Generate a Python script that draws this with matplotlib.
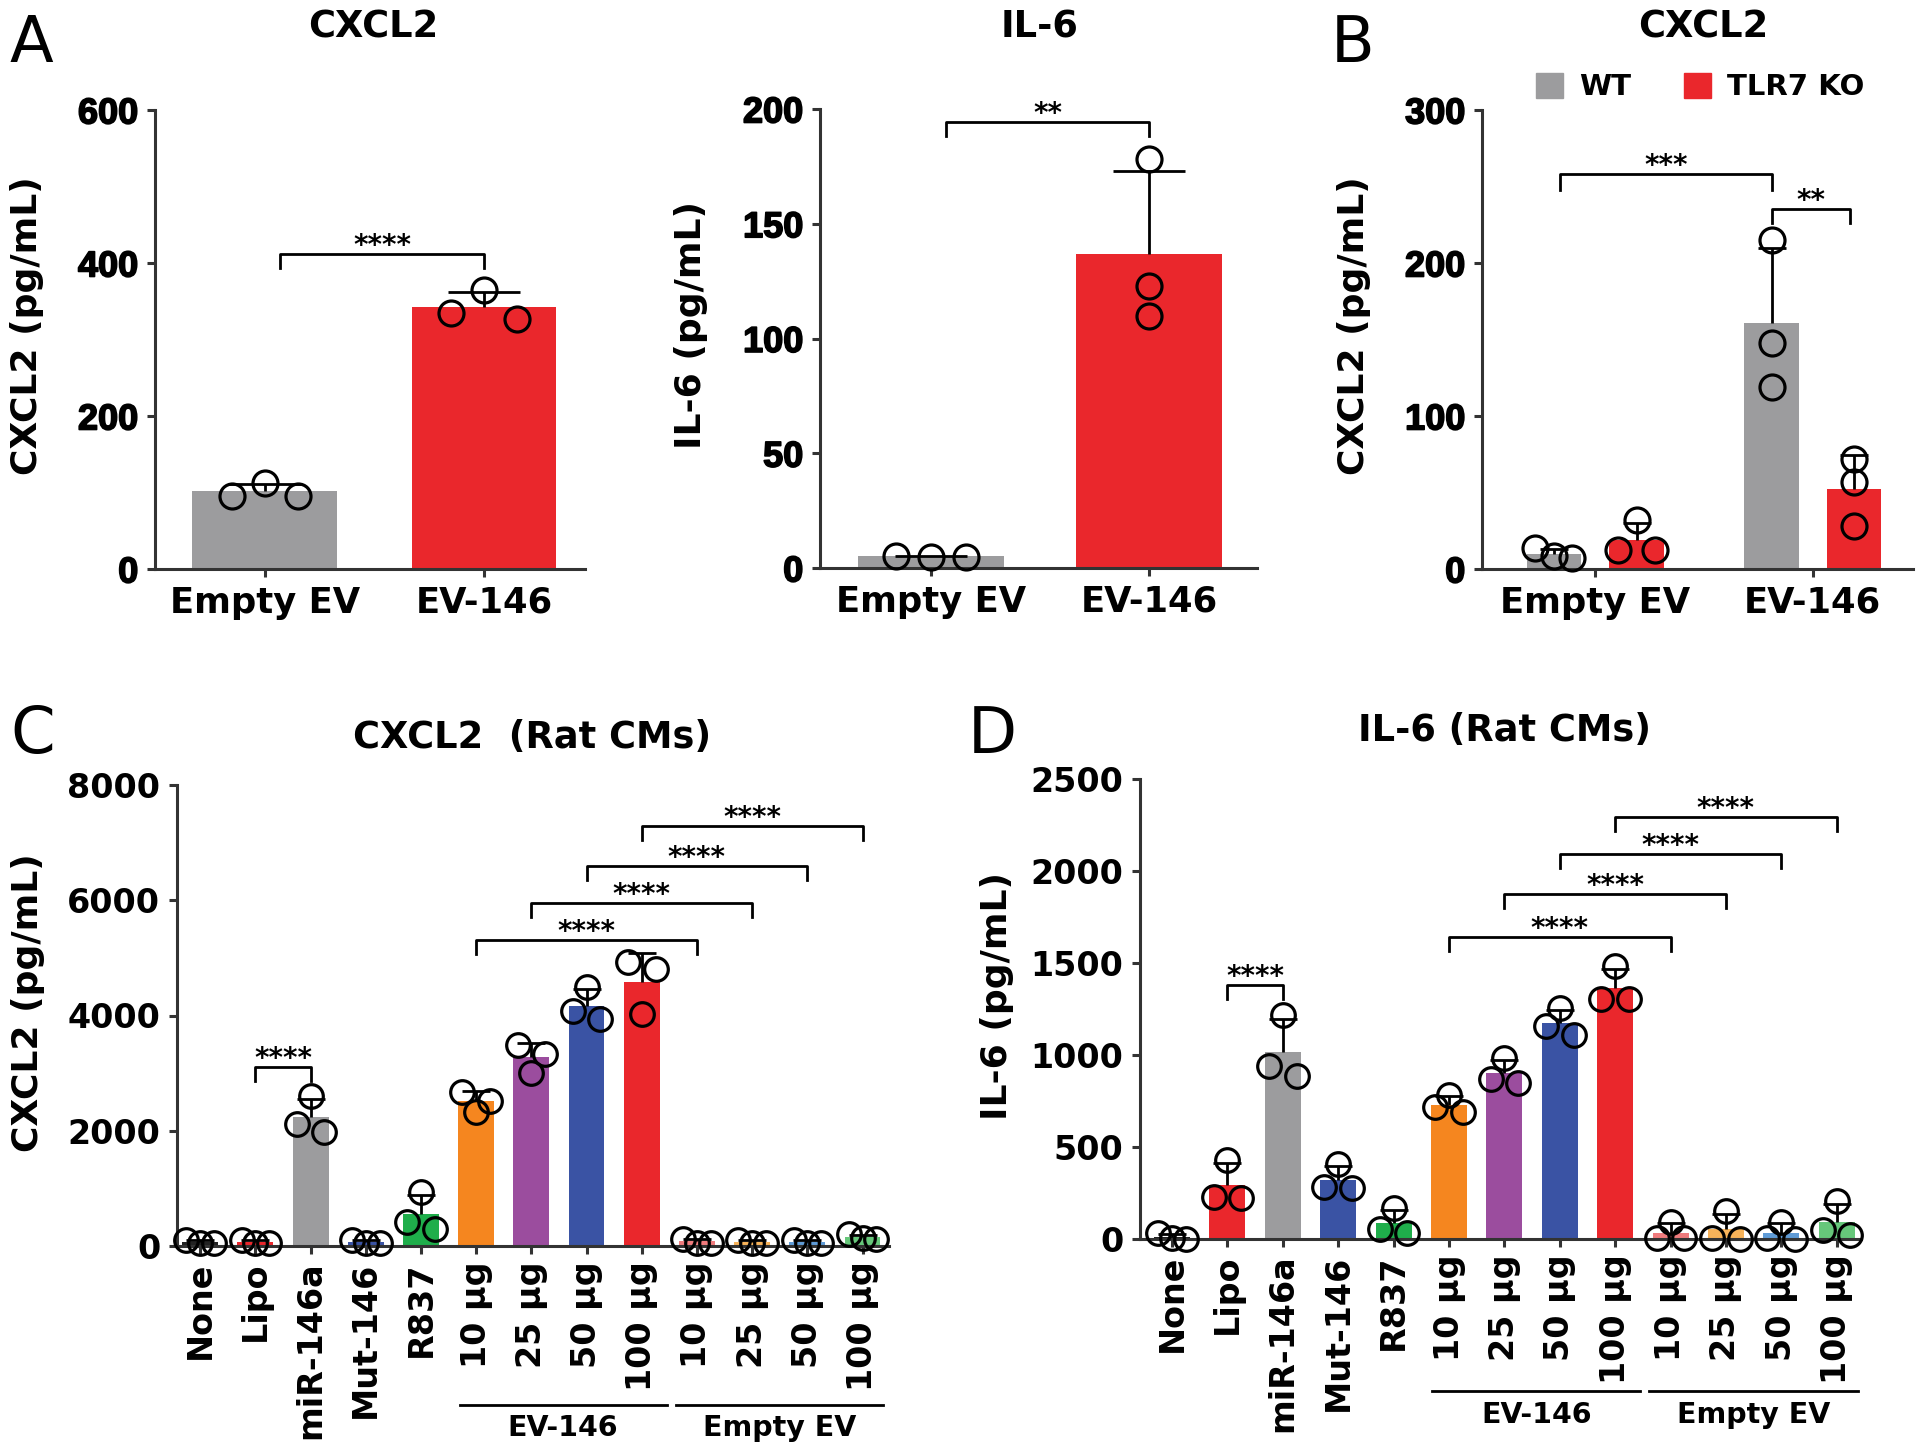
import numpy as np
import matplotlib
matplotlib.use("Agg")
import matplotlib.pyplot as plt
from matplotlib.patches import Patch
from matplotlib import transforms
import matplotlib.patheffects as pe

plt.rcParams['font.family'] = ['DejaVu Sans']
plt.rcParams['font.weight'] = 'bold'

# ---- data (pg/mL, three replicates per bar) ----
a_groups = ["Empty EV", "EV-146"]
a_cxcl2 = [[96, 113, 96], [365, 327, 335]]
a_il6 = [[4.8, 5.4, 5.0], [178, 123, 110]]

b_groups = ["Empty EV", "EV-146"]
b_wt = [[7.5, 13.4, 8.8], [215, 148, 119]]
b_ko = [[12.3, 32.1, 12.3], [71.8, 57.1, 28.4]]

cd_labels = ["None", "Lipo", "miR-146a", "Mut-146", "R837",
             "10 µg", "25 µg", "50 µg", "100 µg",
             "10 µg", "25 µg", "50 µg", "100 µg"]
c_cxcl2 = [[60, 110, 60], [60, 110, 60], [2600, 1980, 2110], [60, 110, 60],
           [935, 295, 415], [2680, 2330, 2520], [3495, 3336, 2994],
           [4495, 3937, 4078], [4937, 4812, 4020],
           [60, 120, 60], [50, 110, 50], [60, 110, 60], [130, 200, 140]]
d_il6 = [[0, 30, 5], [430, 225, 230], [1220, 886, 938], [410, 275, 280],
         [170, 35, 55], [780, 690, 720], [985, 849, 867],
         [1254, 1108, 1155], [1486, 1306, 1306],
         [95, 5, 5], [150, 0, 5], [95, 0, 5], [205, 20, 50]]

GRAY = '#9c9c9e'
RED = '#ea272c'
cd_colors = ['#222222', RED, GRAY, '#3a53a4', '#1fae4b',
             '#f5861f', '#9b4d9e', '#3a53a4', RED,
             '#ef7b7d', '#f7b35a', '#5f9bd6', '#66c77a']

W, H = 1920, 1449
fig = plt.figure(figsize=(W / 100, H / 100), dpi=100)
thick = [pe.withStroke(linewidth=1.2, foreground='black')]


def rect(l, t, r, b):
    return [l / W, 1 - b / H, (r - l) / W, (b - t) / H]


def style(ax, fs, yfamily='DejaVu Sans'):
    for s in ['top', 'right']:
        ax.spines[s].set_visible(False)
    for s in ['left', 'bottom']:
        ax.spines[s].set_linewidth(2.2)
        ax.spines[s].set_color('#333333')
    ax.tick_params(width=2.2, length=6, color='#333333', pad=6)
    for t in ax.get_yticklabels():
        t.set_family(yfamily)
        t.set_fontsize(fs)
        if yfamily != 'DejaVu Sans':
            t.set_path_effects(thick)


def row_offsets(vals, ppy, rowtol, step):
    vals = np.asarray(vals, float)
    order = np.argsort(-vals, kind='stable')
    offs = np.zeros(len(vals))
    rows = [[order[0]]]
    for i in order[1:]:
        if (vals[rows[-1][-1]] - vals[i]) * ppy < rowtol:
            rows[-1].append(i)
        else:
            rows.append([i])
    for r in rows:
        if len(r) > 1:
            offs[r] = np.linspace(-step, step, len(r))
    return offs


def bar_with_points(ax, x, vals, color, width, ppy, rowtol, step, ms, cap):
    vals = np.asarray(vals, float)
    m, sd = vals.mean(), vals.std(ddof=1)
    ax.bar(x, m, width=width, color=color, zorder=2)
    eb = ax.errorbar(x, m, yerr=[[0], [sd]], fmt='none', ecolor='k',
                     elinewidth=2, capsize=cap, capthick=2, zorder=3)
    # mean +SD only: hide the cap that sits on the bar top
    for cl in eb[1]:
        if np.allclose(cl.get_ydata(), m):
            cl.set_visible(False)
    offs = row_offsets(vals, ppy, rowtol, step)
    ax.plot(x + offs, vals, 'o', mfc='none', mec='k', ms=ms, mew=2.3,
            zorder=4, clip_on=False)


def bracket(ax, x1, x2, y, drop, text, fs=20):
    ax.plot([x1, x1, x2, x2], [y - drop, y, y, y - drop], color='k', lw=2,
            clip_on=False, zorder=5)
    ax.annotate(text, xy=((x1 + x2) / 2, y), xytext=(0, 0),
                textcoords='offset points', ha='center', va='baseline',
                fontsize=fs, fontweight='bold')


# ---------------- Panel A : CXCL2 ----------------
ax = fig.add_axes(rect(155, 110, 585, 569))
for i, v in enumerate(a_cxcl2):
    bar_with_points(ax, i, v, [GRAY, RED][i], 0.66, 459 / 600, 8, 0.15, 18, 26)
ax.set_xlim(-0.50, 1.46)
ax.set_ylim(0, 600)
ax.set_yticks([0, 200, 400, 600])
ax.set_xticks([0, 1])
ax.set_xticklabels(a_groups, fontsize=25.5)
style(ax, 26, 'Liberation Sans')
bracket(ax, 0.07, 1.0, 412, 18, '****')

# ---------------- Panel A : IL-6 ----------------
ax = fig.add_axes(rect(820, 109, 1257, 568))
for i, v in enumerate(a_il6):
    bar_with_points(ax, i, v, [GRAY, RED][i], 0.67, 459 / 200, 8, 0.16, 18, 26)
ax.set_xlim(-0.51, 1.495)
ax.set_ylim(0, 200)
ax.set_yticks([0, 50, 100, 150, 200])
ax.set_xticks([0, 1])
ax.set_xticklabels(a_groups, fontsize=25.5)
style(ax, 26, 'Liberation Sans')
bracket(ax, 0.07, 1.0, 194.3, 6, '**')

# ---------------- Panel B ----------------
ax = fig.add_axes(rect(1482, 110, 1913, 569))
for i in range(len(b_groups)):
    bar_with_points(ax, i - 0.19, b_wt[i], GRAY, 0.25, 459 / 300, 8, 0.085, 18, 10)
    bar_with_points(ax, i + 0.19, b_ko[i], RED, 0.25, 459 / 300, 8, 0.085, 18, 10)
ax.set_xlim(-0.52, 1.46)
ax.set_ylim(0, 300)
ax.set_yticks([0, 100, 200, 300])
ax.set_xticks([0, 1])
ax.set_xticklabels(b_groups, fontsize=25.5)
style(ax, 26, 'Liberation Sans')
bracket(ax, -0.16, 0.81, 258, 10, '***')
bracket(ax, 0.81, 1.17, 235, 9, '**')
fig.legend(handles=[Patch(color=GRAY, label='WT'), Patch(color=RED, label='TLR7 KO')],
           loc='center left', bbox_to_anchor=(1536 / W, 1 - 87 / H), ncol=2,
           frameon=False, fontsize=21, handlelength=0.93, handleheight=0.93,
           handletextpad=0.55, columnspacing=1.8, borderpad=0, borderaxespad=0)


# ---------------- Panels C and D ----------------
def rat_panel(box, data, xlim, ylim, yticks, ppy, brackets, drop, line_y, text_y):
    ax = fig.add_axes(rect(*box))
    for i, v in enumerate(data):
        bar_with_points(ax, i, v, cd_colors[i], 0.65, ppy, 10, 0.25, 17, 10)
    ax.set_xlim(*xlim)
    ax.set_ylim(*ylim)
    ax.set_yticks(yticks)
    ax.set_xticks(range(len(cd_labels)))
    ax.set_xticklabels(cd_labels, rotation=90, fontsize=24)
    style(ax, 24)
    ax.tick_params(axis='x', length=6, pad=5)
    for (x1, x2), y in brackets:
        bracket(ax, x1, x2, y, drop, '****')
    tr = transforms.blended_transform_factory(ax.transData, fig.transFigure)
    for (x1, x2), name in [((4.7, 8.45), 'EV-146'), ((8.62, 12.38), 'Empty EV')]:
        ax.plot([x1, x2], [1 - line_y / H] * 2, color='k', lw=2,
                transform=tr, clip_on=False)
        ax.text((x1 + x2) / 2, 1 - text_y / H, name, transform=tr,
                ha='center', va='center', fontsize=20.5, fontweight='bold')
    return ax


rat_panel((177, 785, 889, 1246), c_cxcl2, (-0.42, 12.48), (0, 8000),
          [0, 2000, 4000, 6000, 8000], 461 / 8000,
          [((1, 2), 3100), ((5, 9), 5310), ((6, 10), 5950),
           ((7, 11), 6600), ((8, 12), 7290)], 240, 1405, 1428)
rat_panel((1140, 779, 1861, 1239), d_il6, (-0.58, 12.44), (0, 2500),
          [0, 500, 1000, 1500, 2000, 2500], 460 / 2500,
          [((1, 2), 1382), ((5, 9), 1643), ((6, 10), 1873),
           ((7, 11), 2090), ((8, 12), 2291)], 76, 1391, 1415)

# ---------------- titles, axis labels, panel letters ----------------
for x, y, s in [(373, 37, 'CXCL2'), (1040, 37, 'IL-6'), (1703, 37, 'CXCL2'),
                (532, 748, 'CXCL2  (Rat CMs)'), (1505, 741, 'IL-6 (Rat CMs)')]:
    fig.text(x / W, 1 - y / H, s, ha='center', va='baseline', fontsize=26.5,
             fontweight='bold')

for x, y, s in [(27, 326, 'CXCL2 (pg/mL)'), (691, 325, 'IL-6 (pg/mL)'),
                (1354, 326, 'CXCL2 (pg/mL)'), (28, 1003, 'CXCL2 (pg/mL)'),
                (997, 996, 'IL-6 (pg/mL)')]:
    fig.text(x / W, 1 - y / H, s, rotation=90, ha='center', va='center',
             fontsize=26, fontweight='bold')

for x, y, s in [(10, 62, 'A'), (1331, 62, 'B'), (10, 753, 'C'), (968, 753, 'D')]:
    fig.text(x / W, 1 - y / H, s, ha='left', va='baseline', fontsize=46,
             fontweight='normal')

fig.savefig('out.png', dpi=100)
